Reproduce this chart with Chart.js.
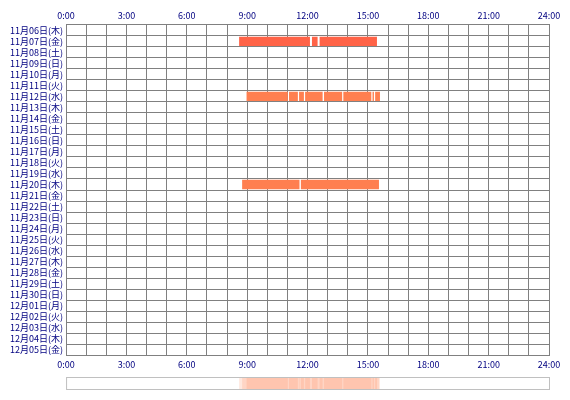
<!DOCTYPE html>
<html>
<head>
<meta charset="utf-8">
<script src="https://cdn.jsdelivr.net/npm/chart.js@4"></script>
<style>
  body { margin: 0; background: #fff; }
  #wrap { width: 570px; height: 400px; }
</style>
</head>
<body>
<div id="wrap"><canvas id="timeChart"></canvas></div>
<script>
const days = [
  "11月06日(木)", "11月07日(金)", "11月08日(土)", "11月09日(日)", "11月10日(月)",
  "11月11日(火)", "11月12日(水)", "11月13日(木)", "11月14日(金)", "11月15日(土)",
  "11月16日(日)", "11月17日(月)", "11月18日(火)", "11月19日(水)", "11月20日(木)",
  "11月21日(金)", "11月22日(土)", "11月23日(日)", "11月24日(月)", "11月25日(火)",
  "11月26日(水)", "11月27日(木)", "11月28日(金)", "11月29日(土)", "11月30日(日)",
  "12月01日(月)", "12月02日(火)", "12月03日(水)", "12月04日(木)", "12月05日(金)"
];

// active periods in hours, per day
const nov07 = [[8.6, 12.12], [12.22, 12.5], [12.6, 15.45]];
const nov12 = [[8.97, 11.02], [11.08, 11.52], [11.58, 11.82], [11.88, 12.75], [12.82, 13.72], [13.78, 15.17], [15.23, 15.3], [15.36, 15.6]];
const nov20 = [[8.75, 11.6], [11.67, 15.55]];

const activity = { "11月07日(金)": nov07, "11月12日(水)": nov12, "11月20日(木)": nov20 };
const barColors = { "11月07日(金)": "#ff6347", "11月12日(水)": "#ff7f50", "11月20日(木)": "#ff7f50" };

const hourTicks = [0, 3, 6, 9, 12, 15, 18, 21, 24];

let maxSegs = Math.max(...Object.values(activity).map(a => a.length));
let datasets = [];
for (let k = 0; k < maxSegs; k++) {
  datasets.push({
    data: days.map(d => (activity[d] && activity[d][k]) ? activity[d][k] : null),
    backgroundColor: days.map(d => barColors[d] || "#ff7f50"),
    borderWidth: 0,
    grouped: false,
    categoryPercentage: 1,
    barPercentage: 0.85,
  });
}

const fmt = v => hourTicks.includes(v) ? `${v}:00` : "";

// density strip below the chart
const stripPlugin = {
  id: "strip",
  afterDraw(chart) {
    const ctx = chart.ctx;
    const x = chart.scales.x;
    const top = 377, h = 12;
    ctx.save();
    ctx.fillStyle = "rgba(255,127,80,0.18)";
    Object.values(activity).forEach(segs => {
      segs.forEach(s => {
        let a = x.getPixelForValue(s[0]);
        let b = x.getPixelForValue(s[1]);
        ctx.fillRect(a, top, b - a, h);
      });
    });
    ctx.strokeStyle = "#c0c0c0";
    ctx.lineWidth = 1;
    ctx.strokeRect(x.left + 0.5, top + 0.5, x.right - x.left, h);
    ctx.restore();
  }
};

const tickFont = { family: "'Noto Sans CJK JP', 'DejaVu Sans', sans-serif", size: 9 };

new Chart(document.getElementById("timeChart"), {
  type: "bar",
  data: { labels: days, datasets },
  options: {
    indexAxis: "y",
    responsive: true,
    maintainAspectRatio: false,
    animation: false,
    layout: { padding: { left: 7, right: 21, top: 6, bottom: 26 } },
    plugins: { legend: { display: false }, tooltip: { enabled: false } },
    scales: {
      x: {
        type: "linear", position: "bottom", min: 0, max: 24,
        ticks: { stepSize: 1, autoSkip: false, maxRotation: 0, color: "#000080", font: tickFont, callback: fmt, padding: 4 },
        grid: { color: "#808080", drawTicks: false },
        border: { color: "#808080" }
      },
      x2: {
        type: "linear", position: "top", min: 0, max: 24,
        ticks: { stepSize: 1, autoSkip: false, maxRotation: 0, color: "#000080", font: tickFont, callback: fmt, padding: 4 },
        grid: { display: false, drawTicks: false },
        border: { color: "#808080" }
      },
      y: {
        ticks: { color: "#000080", font: tickFont, autoSkip: false, padding: 3 },
        grid: { color: "#808080", offset: true, drawTicks: false },
        border: { color: "#808080" }
      }
    }
  },
  plugins: [stripPlugin]
});
</script>
</body>
</html>
